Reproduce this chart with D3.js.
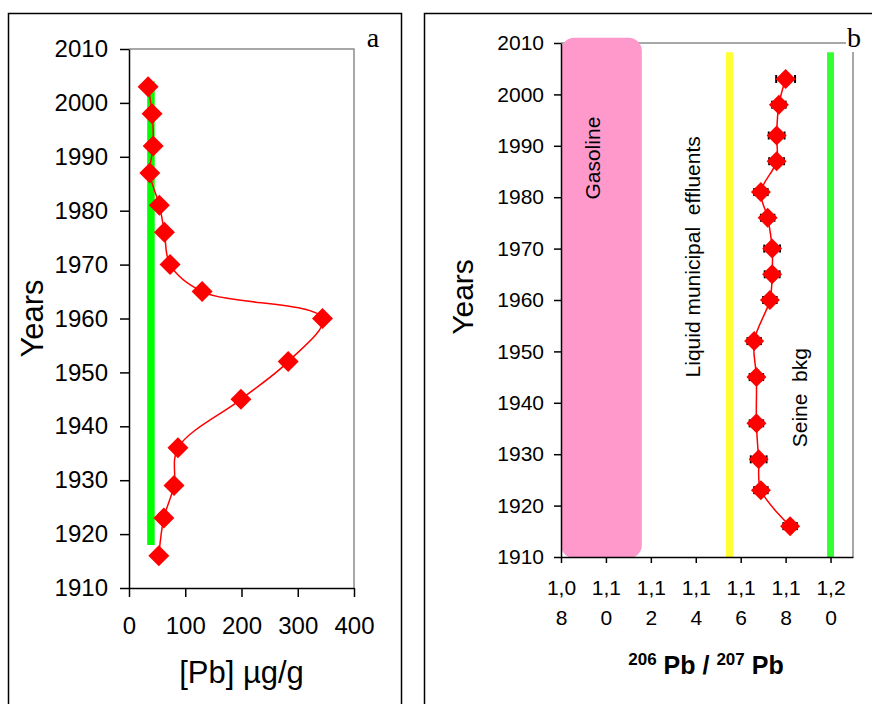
<!DOCTYPE html>
<html>
<head>
<meta charset="utf-8">
<script src="https://cdn.jsdelivr.net/npm/d3@7"></script>
<style>
  body { margin: 0; background: #fff; }
  text { font-family: "Liberation Sans", Arial, sans-serif; fill: #000; }
</style>
</head>
<body>
<svg id="chart"></svg>
<script>
// panel a : [Pb] profile
const yearsA = [2003, 1998, 1992, 1987, 1981, 1976, 1970, 1965, 1960, 1952, 1945, 1936, 1929, 1923, 1916];
const pbA = [34, 41, 43, 37, 54, 63, 73, 130, 344, 283, 199, 87, 80, 62, 53];
const pbBkgValue = [39];
const pbBkgYears = [1918, 2004];
const xTicksA = [0, 100, 200, 300, 400];
const yTicks = [1910, 1920, 1930, 1940, 1950, 1960, 1970, 1980, 1990, 2000, 2010];

// panel b : 206Pb/207Pb profile
const yearsB = [2003, 1998, 1992, 1987, 1981, 1976, 1970, 1965, 1960, 1952, 1945, 1936, 1929, 1923, 1916];
const ratioB = [1.180, 1.177, 1.176, 1.176, 1.169, 1.172, 1.174, 1.174, 1.173, 1.166, 1.167, 1.167, 1.168, 1.169, 1.182];
const errB = [0.0042, 0.003, 0.0035, 0.0033, 0.003, 0.003, 0.0035, 0.0033, 0.003, 0.003, 0.003, 0.003, 0.0035, 0.003, 0.003];
const xTicksB = [1.08, 1.10, 1.12, 1.14, 1.16, 1.18, 1.20];
const sourceNames = ["Gasoline", "Liquid municipal  effluents", "Seine  bkg"];
const gasolineRange = [1.08, 1.116];
const gasolineYears = [1909.8, 2011];
const effluentsValue = [1.155];
const seineValue = [1.20];
const sourceLineYears = [1910, 2008.2];

const width = 872;
const height = 704;

const svg = d3.select("#chart")
  .attr("width", width)
  .attr("height", height);

// diamond marker
const diamond = r => `M0,${-r}L${r},0L0,${r}L${-r},0Z`;

// ---------- panel a ----------
svg.append("rect")
  .attr("x", 8.5).attr("y", 13.5)
  .attr("width", 393).attr("height", 720)
  .attr("fill", "none").attr("stroke", "#000").attr("stroke-width", 1.5);

const xA = d3.scaleLinear().domain([0, 400]).range([129, 354]);
const yA = d3.scaleLinear().domain([1910, 2010]).range([588, 49]);

const gA = svg.append("g");

// grey frame on top / right
gA.append("path")
  .attr("d", `M${xA(0)},${yA(2010)}H${xA(400)}V${yA(1910)}`)
  .attr("fill", "none").attr("stroke", "#8c8c8c").attr("stroke-width", 1.5);

// background line
gA.append("line")
  .attr("x1", xA(pbBkgValue[0])).attr("x2", xA(pbBkgValue[0]))
  .attr("y1", yA(pbBkgYears[0])).attr("y2", yA(pbBkgYears[1]))
  .attr("stroke", "#00ff00").attr("stroke-width", 7.5);

const ptsA = yearsA.map((y, i) => [xA(pbA[i]), yA(y)]);

gA.append("path")
  .attr("d", d3.line().curve(d3.curveCatmullRom.alpha(0.5))(ptsA))
  .attr("fill", "none").attr("stroke", "#ff0000").attr("stroke-width", 1.5);

gA.selectAll(".dotA")
  .data(ptsA)
  .enter()
  .append("path")
  .attr("class", "dotA")
  .attr("transform", d => `translate(${d[0]},${d[1]})`)
  .attr("d", diamond(10.5))
  .attr("fill", "#ff0000");

const yAxisA = d3.axisLeft(yA).tickValues(yTicks).tickFormat(d3.format("d"))
  .tickSize(9).tickSizeOuter(0).tickPadding(12);
const xAxisA = d3.axisBottom(xA).tickValues(xTicksA).tickFormat(d3.format("d"))
  .tickSize(9).tickSizeOuter(0).tickPadding(20);

gA.append("g")
  .attr("transform", `translate(${xA(0)},0)`)
  .call(yAxisA)
  .call(g => g.selectAll("text").attr("font-size", 24).attr("font-family", "Liberation Sans"));

gA.append("g")
  .attr("transform", `translate(0,${yA(1910)})`)
  .call(xAxisA)
  .call(g => g.selectAll("text").attr("font-size", 24).attr("font-family", "Liberation Sans"));

gA.selectAll(".domain, .tick line").attr("stroke", "#000").attr("stroke-width", 1.5);

gA.append("text")
  .attr("transform", `translate(43,${(yA(1910) + yA(2010)) / 2}) rotate(-90)`)
  .attr("text-anchor", "middle")
  .attr("font-size", 31)
  .text("Years");

gA.append("text")
  .attr("x", (xA(0) + xA(400)) / 2 + 0)
  .attr("y", 683)
  .attr("text-anchor", "middle")
  .attr("font-size", 31)
  .text("[Pb] µg/g");

gA.append("text")
  .attr("x", 373).attr("y", 47)
  .attr("text-anchor", "middle")
  .style("font-family", "'Liberation Serif', 'Times New Roman', serif")
  .attr("font-size", 28)
  .text("a");

// ---------- panel b ----------
svg.append("rect")
  .attr("x", 424.5).attr("y", 13.5)
  .attr("width", 480).attr("height", 720)
  .attr("fill", "none").attr("stroke", "#000").attr("stroke-width", 1.5);

const xB = d3.scaleLinear().domain([1.08, 1.21]).range([561, 853]);
const yB = d3.scaleLinear().domain([1910, 2010]).range([557, 43]);

const gB = svg.append("g");

gB.append("path")
  .attr("d", `M${xB(1.08)},${yB(2010)}H${xB(1.21)}V${yB(1910)}`)
  .attr("fill", "none").attr("stroke", "#8c8c8c").attr("stroke-width", 1.5);

// gasoline band
gB.append("rect")
  .attr("x", xB(gasolineRange[0]))
  .attr("y", yB(gasolineYears[1]))
  .attr("width", xB(gasolineRange[1]) - xB(gasolineRange[0]))
  .attr("height", yB(gasolineYears[0]) - yB(gasolineYears[1]))
  .attr("rx", 13)
  .attr("fill", "#ff99cc");

// effluents / seine lines
gB.append("line")
  .attr("x1", xB(effluentsValue[0])).attr("x2", xB(effluentsValue[0]))
  .attr("y1", yB(sourceLineYears[0])).attr("y2", yB(sourceLineYears[1]))
  .attr("stroke", "#ffff33").attr("stroke-width", 7);

gB.append("line")
  .attr("x1", xB(seineValue[0])).attr("x2", xB(seineValue[0]))
  .attr("y1", yB(sourceLineYears[0])).attr("y2", yB(sourceLineYears[1]))
  .attr("stroke", "#33ff33").attr("stroke-width", 7);

// source labels
const labelPos = [
  [xB(gasolineRange[0]) + 39, yB(1987.6)],
  [xB(effluentsValue[0]) - 29, yB(1968.4)],
  [xB(seineValue[0]) - 24, yB(1941)]
];
gB.selectAll(".srcLabel")
  .data(sourceNames)
  .enter()
  .append("text")
  .attr("class", "srcLabel")
  .attr("transform", (d, i) => `translate(${labelPos[i][0]},${labelPos[i][1]}) rotate(-90)`)
  .attr("text-anchor", "middle")
  .attr("font-size", 21)
  .style("white-space", "pre")
  .attr("xml:space", "preserve")
  .text(d => d);

const ptsB = yearsB.map((y, i) => [xB(ratioB[i]), yB(y)]);

gB.append("path")
  .attr("d", d3.line().curve(d3.curveCatmullRom.alpha(0.5))(ptsB))
  .attr("fill", "none").attr("stroke", "#ff0000").attr("stroke-width", 1.5);

// error bars
const eb = gB.selectAll(".err")
  .data(yearsB)
  .enter()
  .append("g")
  .attr("class", "err");
eb.append("line")
  .attr("x1", (d, i) => xB(ratioB[i] - errB[i]))
  .attr("x2", (d, i) => xB(ratioB[i] + errB[i]))
  .attr("y1", d => yB(d)).attr("y2", d => yB(d))
  .attr("stroke", "#000").attr("stroke-width", 1.2);
[-1, 1].forEach(s => {
  eb.append("line")
    .attr("x1", (d, i) => xB(ratioB[i] + s * errB[i]))
    .attr("x2", (d, i) => xB(ratioB[i] + s * errB[i]))
    .attr("y1", d => yB(d) - 4).attr("y2", d => yB(d) + 4)
    .attr("stroke", "#000").attr("stroke-width", 2);
});

gB.selectAll(".dotB")
  .data(ptsB)
  .enter()
  .append("path")
  .attr("class", "dotB")
  .attr("transform", d => `translate(${d[0]},${d[1]})`)
  .attr("d", diamond(10))
  .attr("fill", "#ff0000");

const commaFmt = d3.formatLocale({ decimal: ",", thousands: ".", grouping: [3], currency: ["", ""] }).format(".2f");

const yAxisB = d3.axisLeft(yB).tickValues(yTicks).tickFormat(d3.format("d"))
  .tickSize(7).tickSizeOuter(0).tickPadding(10);
const xAxisB = d3.axisBottom(xB).tickValues(xTicksB).tickFormat("")
  .tickSize(6).tickSizeOuter(0);

gB.append("g")
  .attr("transform", `translate(${xB(1.08)},0)`)
  .call(yAxisB)
  .call(g => g.selectAll("text").attr("font-size", 21).attr("font-family", "Liberation Sans"));

const xAxG = gB.append("g")
  .attr("transform", `translate(0,${yB(1910)})`)
  .call(xAxisB);

gB.selectAll(".domain, .tick line").attr("stroke", "#000").attr("stroke-width", 1.5);

// wrapped tick labels "1,0" / "8"
xAxG.selectAll(".tick").each(function(d) {
  const s = commaFmt(d);
  const t = d3.select(this).select("text")
    .attr("y", 0).attr("dy", null)
    .attr("font-size", 21).attr("font-family", "Liberation Sans")
    .text(null);
  t.append("tspan").attr("x", 0).attr("y", 38).text(s.slice(0, 3));
  t.append("tspan").attr("x", 0).attr("y", 68).text(s.slice(3));
});

gB.append("text")
  .attr("transform", `translate(473,${(yB(1910) + yB(2010)) / 2 - 3}) rotate(-90)`)
  .attr("text-anchor", "middle")
  .attr("font-size", 30)
  .text("Years");

const xl = gB.append("text")
  .attr("x", 706).attr("y", 674)
  .attr("text-anchor", "middle")
  .attr("font-weight", "bold")
  .attr("font-size", 25);
xl.append("tspan").attr("font-size", 17).attr("dy", -9).text("206");
xl.append("tspan").attr("dy", 9).text(" Pb / ");
xl.append("tspan").attr("font-size", 17).attr("dy", -9).text("207");
xl.append("tspan").attr("dy", 9).text(" Pb");

// "b" label with white backing over the frame corner
gB.append("rect")
  .attr("x", 846).attr("y", 22)
  .attr("width", 16).attr("height", 30)
  .attr("fill", "#fff");
gB.append("text")
  .attr("x", 854).attr("y", 47)
  .attr("text-anchor", "middle")
  .style("font-family", "'Liberation Serif', 'Times New Roman', serif")
  .attr("font-size", 28)
  .text("b");
</script>
</body>
</html>
